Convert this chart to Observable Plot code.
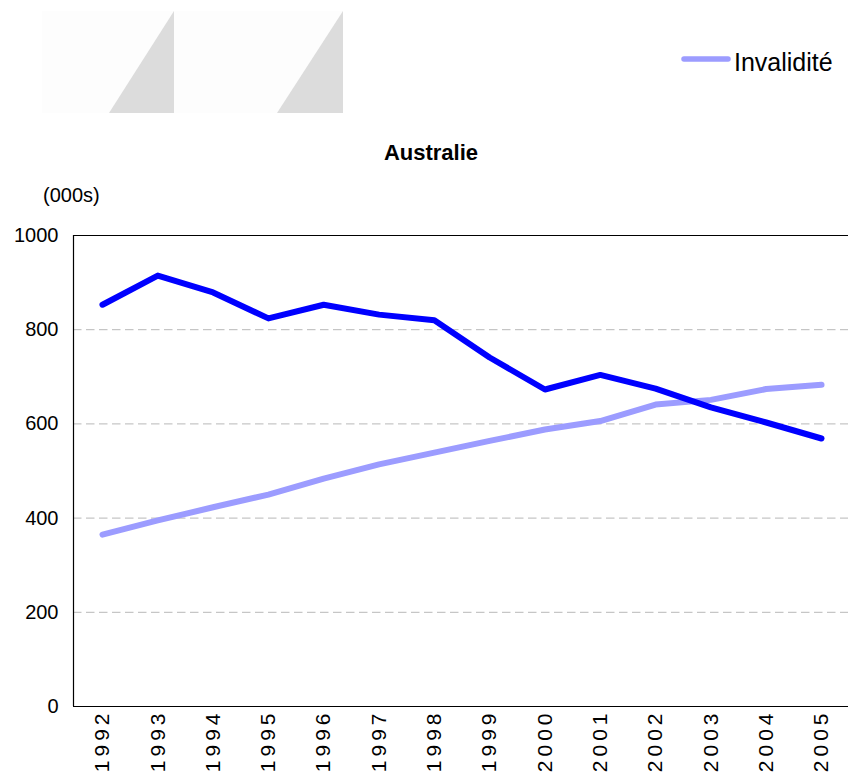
<!DOCTYPE html>
<html>
<head>
<meta charset="utf-8">
<script src="https://cdn.jsdelivr.net/npm/d3@7"></script>
<script src="https://cdn.jsdelivr.net/npm/@observablehq/plot@0.6"></script>
<style>
  html, body { margin: 0; padding: 0; background: #fff; }
  #wrap { position: relative; width: 848px; height: 782px; overflow: hidden; font-family: "Liberation Sans", Arial, sans-serif; }
  #wrap > svg { position: absolute; left: 0; top: 0; }
  g[aria-label="x-axis tick label"] text { letter-spacing: 4px; }
</style>
</head>
<body>
<div id="wrap"></div>
<script>
// ---- data ----
const years = [1992,1993,1994,1995,1996,1997,1998,1999,2000,2001,2002,2003,2004,2005];
const seriesDark = [853,915,879,824,853,832,820,741,673,704,675,635,603,569];   // unnamed series (dark blue)
const seriesInvalidite = [365,395,423,450,484,514,539,564,588,606,641,651,674,683]; // Invalidité
const yTicks = [0,200,400,600,800,1000];
const gridValues = [200,400,600,800];
const title = "Australie";
const unitLabel = "(000s)";
const legendLabel = "Invalidité";

const darkData = years.map((y, i) => ({year: y, value: seriesDark[i]}));
const lightData = years.map((y, i) => ({year: y, value: seriesInvalidite[i]}));

const xDomain = [1991.476, 2005.488];

const chart = Plot.plot({
  width: 848,
  height: 782,
  marginTop: 235,
  marginBottom: 76,
  marginLeft: 73,
  marginRight: 0,
  style: {fontFamily: "Liberation Sans, Arial, sans-serif", fontSize: "20px", background: "transparent", color: "#000"},
  x: {domain: xDomain, label: null},
  y: {domain: [0, 1000], label: null},
  marks: [
    Plot.ruleY(gridValues, {stroke: "#b8b8b8", strokeWidth: 1, strokeDasharray: "8.5,4.5"}),
    Plot.ruleY([0, 1000], {stroke: "#000", strokeWidth: 1.2}),
    Plot.ruleX([xDomain[0]], {stroke: "#000", strokeWidth: 1.2}),
    Plot.axisY({ticks: yTicks, tickFormat: d => String(d), tickSize: 0, tickPadding: 15, label: null, fontSize: 20}),
    Plot.axisX({ticks: years, tickFormat: d => String(d), tickRotate: -90, tickSize: 0, tickPadding: 3, label: null, fontSize: 21}),
    Plot.line(lightData, {x: "year", y: "value", stroke: "#9c9cff", strokeWidth: 6, strokeLinecap: "round", strokeLinejoin: "round"}),
    Plot.line(darkData, {x: "year", y: "value", stroke: "#0000ff", strokeWidth: 6, strokeLinecap: "round", strokeLinejoin: "round"})
  ]
});
document.getElementById("wrap").appendChild(chart);

// decorations: title, unit label, legend, grey shapes
const deco = d3.select("#wrap").append("svg")
  .attr("width", 848).attr("height", 782)
  .style("position", "absolute").style("left", 0).style("top", 0)
  .style("font-family", "Liberation Sans, Arial, sans-serif");

deco.append("rect").attr("x", 42).attr("y", 11).attr("width", 301).attr("height", 102).attr("fill", "#fdfdfd");
deco.append("polygon").attr("points", "109,113 174,11 174,113").attr("fill", "#dcdcdc");
deco.append("polygon").attr("points", "277,113 343,11 343,113").attr("fill", "#dcdcdc");

deco.append("line").attr("x1", 684).attr("x2", 728).attr("y1", 59).attr("y2", 59)
  .attr("stroke", "#9c9cff").attr("stroke-width", 5.5).attr("stroke-linecap", "round");
deco.append("text").attr("x", 734).attr("y", 71).attr("font-size", 25).attr("fill", "#000").text(legendLabel);

deco.append("text").attr("x", 431).attr("y", 160).attr("text-anchor", "middle")
  .attr("font-size", 22).attr("font-weight", "bold").attr("fill", "#000").text(title);

deco.append("text").attr("x", 43).attr("y", 202).attr("font-size", 20).attr("fill", "#000").text(unitLabel);
</script>
</body>
</html>
